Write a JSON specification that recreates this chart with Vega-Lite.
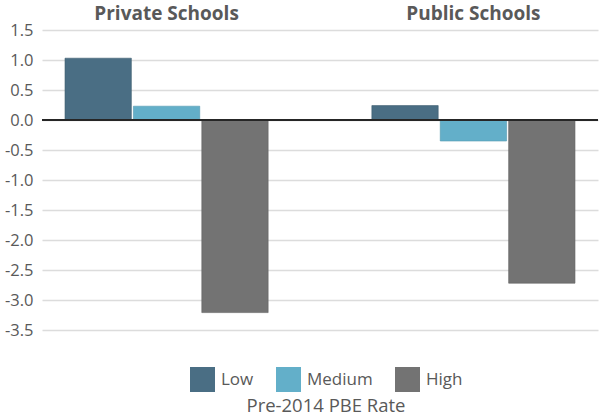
{
  "$schema": "https://vega.github.io/schema/vega-lite/v6.json",
  "autosize": {"type": "none"},
  "width": 556,
  "height": 300,
  "padding": {"left": 42, "top": 30, "right": 2, "bottom": 90},
  "background": "white",
  "config": {
    "view": {"stroke": null},
    "font": "Open Sans"
  },
  "data": {
    "values": [
      {"school": "Private Schools", "rate": "Low", "value": 1.03},
      {"school": "Private Schools", "rate": "Medium", "value": 0.23},
      {"school": "Private Schools", "rate": "High", "value": -3.21},
      {"school": "Public Schools", "rate": "Low", "value": 0.24},
      {"school": "Public Schools", "rate": "Medium", "value": -0.35},
      {"school": "Public Schools", "rate": "High", "value": -2.72}
    ]
  },
  "layer": [
    {
      "mark": {"type": "bar", "strokeWidth": 1, "strokeOpacity": 0.6},
      "encoding": {
        "x": {
          "field": "school",
          "type": "nominal",
          "sort": ["Private Schools", "Public Schools"],
          "scale": {"paddingInner": 0.338, "paddingOuter": 0.075},
          "axis": {
            "orient": "top",
            "title": null,
            "domain": false,
            "ticks": false,
            "labelAngle": 0,
            "labelFontSize": 19,
            "labelFontWeight": "bold",
            "labelColor": "#595959",
            "labelPadding": 7
          }
        },
        "xOffset": {
          "field": "rate",
          "type": "nominal",
          "sort": ["Low", "Medium", "High"],
          "scale": {"paddingInner": 0.03}
        },
        "y": {
          "field": "value",
          "type": "quantitative",
          "scale": {"domain": [-3.5, 1.5], "nice": false, "zero": false},
          "axis": {
            "title": null,
            "tickCount": 10,
            "labelExpr": "replace(format(datum.value, '.1f'), '\u2212', '-')",
            "labelOverlap": false,
            "domain": false,
            "ticks": false,
            "labelFontSize": 16.5,
            "labelColor": "#595959",
            "labelPadding": 9,
            "gridColor": "#dcdcdc",
            "gridWidth": 1.5
          }
        },
        "color": {
          "field": "rate",
          "type": "nominal",
          "sort": ["Low", "Medium", "High"],
          "scale": {"domain": ["Low", "Medium", "High"], "range": ["#4a6e84", "#63afc9", "#737373"]},
          "legend": {
            "title": "Pre-2014 PBE Rate",
            "orient": "none",
            "direction": "horizontal",
            "legendX": 148,
            "legendY": 337,
            "titleOrient": "bottom",
            "titleAnchor": "middle",
            "titleFontSize": 18.5,
            "titleFontWeight": "normal",
            "titleColor": "#595959",
            "titlePadding": 5,
            "symbolType": "square",
            "symbolSize": 625,
            "symbolStrokeWidth": 0,
            "symbolOpacity": 1,
            "labelFontSize": 17,
            "labelColor": "#595959",
            "labelOffset": 6,
            "columnPadding": 22
          }
        },
        "stroke": {
          "field": "rate",
          "type": "nominal",
          "scale": {"domain": ["Low", "Medium", "High"], "range": ["#3d5d70", "#5499b1", "#636363"]},
          "legend": null
        }
      }
    },
    {
      "mark": {"type": "rule", "color": "#262626", "strokeWidth": 2},
      "encoding": {"y": {"datum": 0}}
    }
  ]
}
